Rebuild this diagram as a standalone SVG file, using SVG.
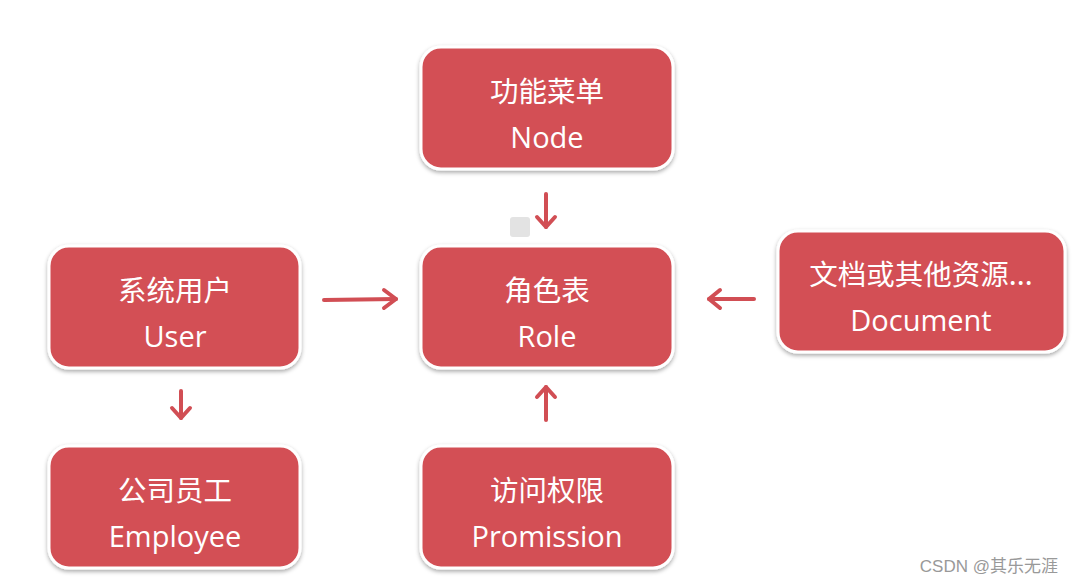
<svg xmlns="http://www.w3.org/2000/svg" width="1074" height="584" viewBox="0 0 1074 584">
<defs>
<filter id="sh" x="-10%" y="-10%" width="120%" height="130%">
<feDropShadow dx="0" dy="2" stdDeviation="2" flood-color="#000" flood-opacity="0.35"/>
</filter>
</defs>
<style>
.box{fill:#D34F55;stroke:#fff;stroke-width:3;filter:url(#sh)}
.zh{font-family:"Noto Sans CJK SC","Noto Sans",sans-serif;font-size:28.5px;fill:#fff;text-anchor:middle}
.en{font-family:"Open Sans","Noto Sans",sans-serif;font-size:29px;fill:#fff;text-anchor:middle}
.ar{stroke:#D14E54;stroke-width:4;fill:none;stroke-linecap:round}
.ah{stroke:#D14E54;stroke-width:4;fill:none;stroke-linecap:round;stroke-linejoin:round}
</style>
<rect width="1074" height="584" fill="#fff"/>
<g id="node-node">
<rect class="box" x="421" y="47" width="252" height="122" rx="20"/>
<text class="zh" x="547" y="102">功能菜单</text>
<text class="en" x="547" y="148">Node</text>
</g>
<g id="node-user">
<rect class="box" x="49" y="246" width="251" height="122" rx="20"/>
<text class="zh" x="175" y="301">系统用户</text>
<text class="en" x="175" y="347">User</text>
</g>
<g id="node-role">
<rect class="box" x="421" y="246" width="252" height="122" rx="20"/>
<text class="zh" x="547" y="301">角色表</text>
<text class="en" x="547" y="347">Role</text>
</g>
<g id="node-document">
<rect class="box" x="778" y="231" width="287" height="121" rx="20"/>
<text class="zh" x="921" y="285">文档或其他资源...</text>
<text class="en" x="921" y="331">Document</text>
</g>
<g id="node-employee">
<rect class="box" x="49" y="446" width="251" height="122" rx="20"/>
<text class="zh" x="175" y="501">公司员工</text>
<text class="en" x="175" y="547">Employee</text>
</g>
<g id="node-promission">
<rect class="box" x="421" y="446" width="252" height="122" rx="20"/>
<text class="zh" x="547" y="501">访问权限</text>
<text class="en" x="547" y="547">Promission</text>
</g>
<g id="connectors">
<line class="ar" x1="546" y1="194" x2="546" y2="227"/>
<path class="ah" d="M537,217 L546,227 L555,217"/>
<line class="ar" x1="324" y1="300" x2="396" y2="299"/>
<path class="ah" d="M384,290 L396,299 L384,308"/>
<line class="ar" x1="754" y1="299" x2="709" y2="299"/>
<path class="ah" d="M720,290 L709,299 L720,308"/>
<line class="ar" x1="181" y1="391" x2="181" y2="418"/>
<path class="ah" d="M172,408 L181,418 L190,408"/>
<line class="ar" x1="546" y1="420" x2="546" y2="387"/>
<path class="ah" d="M537,397 L546,387 L555,397"/>
</g>
<rect x="510" y="217" width="20" height="20" rx="3" fill="#e3e3e3"/>
<text x="1058" y="572" font-family="'Liberation Sans','Noto Sans CJK SC',sans-serif" font-size="17" fill="#999" text-anchor="end">CSDN @其乐无涯</text>
</svg>
